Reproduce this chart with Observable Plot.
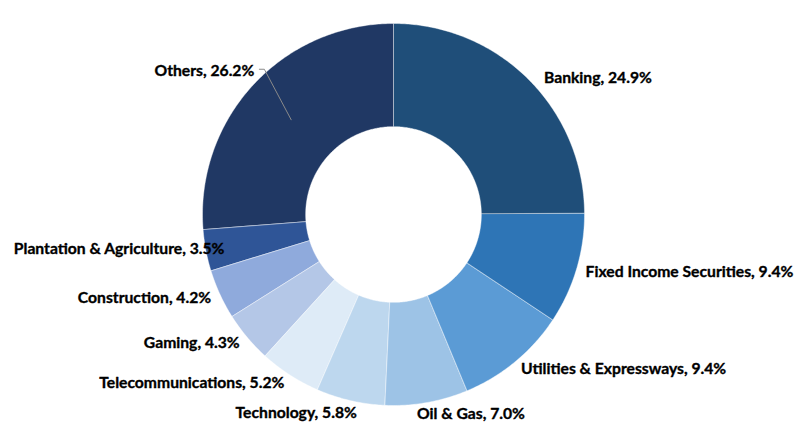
<!DOCTYPE html>
<html><head><meta charset="utf-8">
<script src="https://cdn.jsdelivr.net/npm/d3@7"></script>
<script src="https://cdn.jsdelivr.net/npm/@observablehq/plot@0.6"></script>
<style>body{margin:0;background:#fff;} svg{display:block}</style>
</head><body><div id="chart"></div>
<script>
const sectors = ["Banking","Fixed Income Securities","Utilities & Expressways","Oil & Gas","Technology","Telecommunications","Gaming","Construction","Plantation & Agriculture","Others"];
const weights = [24.9, 9.4, 9.4, 7.0, 5.8, 5.2, 4.3, 4.2, 3.5, 26.2];
const sliceColors = ["#1f4e79","#2e75b6","#5b9bd5","#9dc3e6","#bdd7ee","#deebf7","#b4c7e7","#8faadc","#2f5597","#203864"];

// layout (pixels)
const W = 800, H = 423, R = 191, CX = 393, CY = 214, INNER = 0.46, LABEL_R = 1.05;
// small label nudges in pixels (Excel-like placement)
const nudge = {"Banking":[9,6],"Oil & Gas":[-11,2],"Technology":[9,3],"Plantation & Agriculture":[28,-3],"Others":[8,-7]};

const pie = d3.pie().sort(null).value(d => d)(weights);

const ringPts = [];
pie.forEach((p, i) => {
  const a0 = p.startAngle, a1 = p.endAngle;
  const n = Math.max(4, Math.ceil((a1 - a0) / 0.01));
  for (let k = 0; k <= n; k++) {
    const a = a0 + (a1 - a0) * k / n;
    ringPts.push({sector: sectors[i], x: Math.sin(a), y: Math.cos(a)});
  }
  for (let k = n; k >= 0; k--) {
    const a = a0 + (a1 - a0) * k / n;
    ringPts.push({sector: sectors[i], x: INNER * Math.sin(a), y: INNER * Math.cos(a)});
  }
});

const labels = pie.map((p, i) => {
  const a = (p.startAngle + p.endAngle) / 2;
  const nd = nudge[sectors[i]] || [0, 0];
  return {
    sector: sectors[i],
    text: `${sectors[i]}, ${weights[i].toFixed(1)}%`,
    mid: a,
    x: LABEL_R * Math.sin(a) + nd[0] / R,
    y: LABEL_R * Math.cos(a) - nd[1] / R,
    right: a < Math.PI
  };
});

const others = labels.find(d => d.sector === "Others");
const leader = [
  {x: others.x + 5 / R, y: others.y + 2 / R},
  {x: others.x + 10 / R, y: others.y + 2 / R},
  {x: 0.73 * Math.sin(others.mid), y: 0.73 * Math.cos(others.mid)}
];

const textOpts = {x: "x", y: "y", text: "text", fontSize: 15.7, fontWeight: "bold", fill: "#000", stroke: "#000", strokeWidth: 0.35};

const chart = Plot.plot({
  width: W, height: H,
  margin: 0,
  x: {domain: [-CX / R, (W - CX) / R], axis: null},
  y: {domain: [-(H - CY) / R, CY / R], axis: null},
  color: {type: "ordinal", domain: sectors, range: sliceColors},
  style: {fontFamily: "Lato, 'Open Sans', sans-serif", background: "#fff"},
  marks: [
    Plot.line(ringPts, {x: "x", y: "y", z: "sector", fill: "sector", stroke: "#ffffff", strokeWidth: 0.6, strokeOpacity: 0.7, curve: "linear-closed"}),
    Plot.line(leader, {x: "x", y: "y", stroke: "#8a8a8a", strokeWidth: 1}),
    Plot.text(labels.filter(d => d.right), {...textOpts, textAnchor: "start"}),
    Plot.text(labels.filter(d => !d.right), {...textOpts, textAnchor: "end"})
  ]
});
document.getElementById("chart").append(chart);
</script>
</body></html>
